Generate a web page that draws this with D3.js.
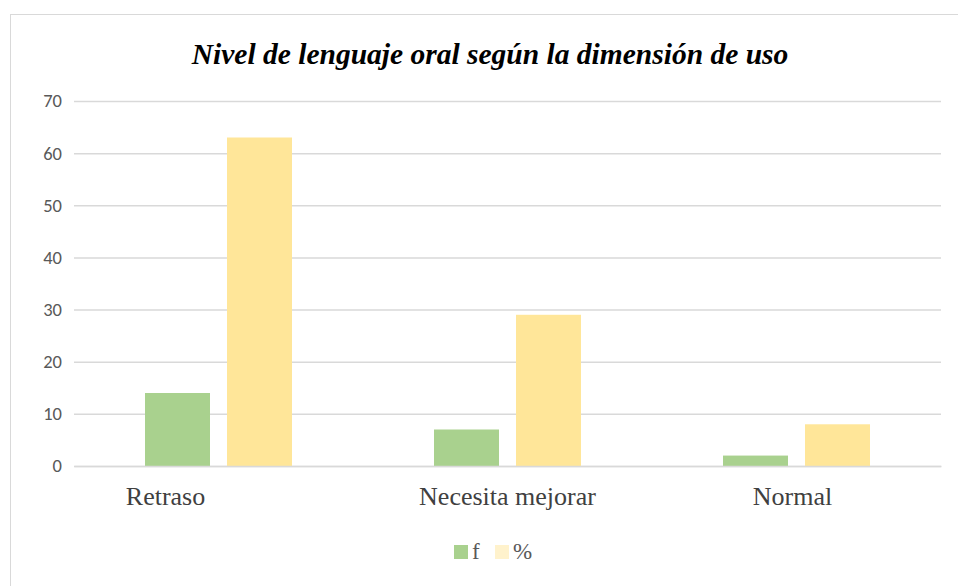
<!DOCTYPE html>
<html>
<head>
<meta charset="utf-8">
<script src="https://cdn.jsdelivr.net/npm/d3@7"></script>
<style>
  body { margin: 0; background: #fff; }
  .serif { font-family: 'Liberation Serif', 'Times New Roman', serif; }
  .sans { font-family: Carlito, 'Open Sans', 'Liberation Sans', sans-serif; }
</style>
</head>
<body>
<svg width="958" height="586"></svg>
<script>
const svg = d3.select('svg')

const categories = ['Retraso', 'Necesita mejorar', 'Normal']
const seriesNames = ['f', '%']
const fValues = [14, 7, 2]
const pctValues = [63, 29, 8]
const yTicks = [0, 10, 20, 30, 40, 50, 60, 70]

const barColors = ['#A9D18E', '#FFE699']
const legendColors = ['#A9D18E', '#FFF2CC']
const labelShift = [-53, 0, -4]

const rows = categories.map((c, i) => ({ cat: c, vals: [fValues[i], pctValues[i]] }))

const plotLeft = 74, plotRight = 941, plotTop = 101, plotBottom = 466

// chart frame
svg.append('rect')
    .attr('x', 10.5).attr('y', 14.5)
    .attr('width', 960).attr('height', 600)
    .attr('fill', 'none')
    .attr('stroke', '#d9d9d9')

svg.append('text')
    .attr('class', 'serif')
    .attr('x', 490).attr('y', 64)
    .attr('text-anchor', 'middle')
    .style('font-style', 'italic').style('font-weight', 'bold')
    .style('font-size', '29.5px')
    .attr('fill', '#000')
    .text('Nivel de lenguaje oral según la dimensión de uso')

const x = d3.scaleBand().domain(categories).range([plotLeft, plotRight])
const xInner = d3.scaleBand().domain(seriesNames)
    .range([x.bandwidth() / 2 - 73.5, x.bandwidth() / 2 + 73.5])
    .paddingInner(17 / 82)
const y = d3.scaleLinear().domain([0, 70]).range([plotBottom, plotTop])

// gridlines + tick labels
const yAxis = d3.axisLeft(y).tickValues(yTicks).tickSize(-(plotRight - plotLeft)).tickPadding(12)
const gy = svg.append('g').attr('transform', `translate(${plotLeft},0)`).call(yAxis)
gy.attr('font-family', null)
gy.select('.domain').remove()
gy.selectAll('.tick line').attr('stroke', '#d9d9d9').attr('stroke-width', 1.5)
gy.selectAll('.tick text')
    .attr('class', 'sans')
    .style('font-size', '18.5px').attr('fill', '#595959')
    .attr('x', -12)

const groups = svg.selectAll('g.cat').data(rows).enter()
    .append('g').attr('class', 'cat')
    .attr('transform', d => `translate(${x(d.cat)},0)`)

groups.selectAll('rect')
    .data(d => d.vals.map((v, i) => ({ key: seriesNames[i], v, i })))
    .enter().append('rect')
    .attr('x', d => xInner(d.key))
    .attr('width', xInner.bandwidth())
    .attr('y', d => y(d.v))
    .attr('height', d => y(0) - y(d.v))
    .attr('fill', d => barColors[d.i])

// x axis
const xAxis = d3.axisBottom(x).tickSize(0).tickPadding(21)
const gx = svg.append('g').attr('transform', `translate(0,${plotBottom})`).call(xAxis)
gx.attr('font-family', null)
gx.select('.domain').attr('stroke', '#d9d9d9').attr('stroke-width', 1.5)
gx.selectAll('.tick text')
    .attr('class', 'serif')
    .attr('dx', (d, i) => labelShift[i])
    .style('font-size', '26px').attr('fill', '#404040')

// legend
const legendX = [454, 495]
const legend = svg.selectAll('g.legend').data(seriesNames).enter()
    .append('g').attr('class', 'legend')
    .attr('transform', (d, i) => `translate(${legendX[i]},545)`)
legend.append('rect').attr('width', 14).attr('height', 14)
    .attr('fill', (d, i) => legendColors[i])
legend.append('text').attr('class', 'serif').attr('x', 18).attr('y', 14)
    .style('font-size', '23px').attr('fill', '#595959')
    .text(d => d)
</script>
</body>
</html>
